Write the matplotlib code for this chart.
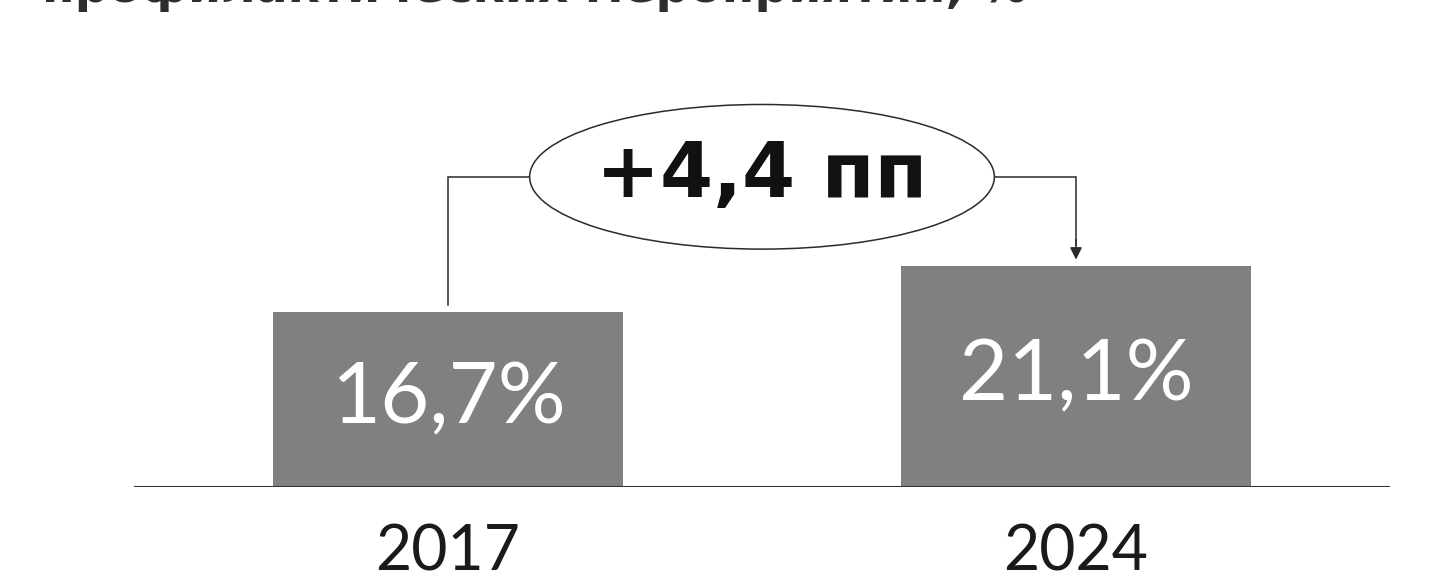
import matplotlib.pyplot as plt
from matplotlib.patches import Ellipse

# Share of population, %
years = ["2017", "2024"]
shares = [16.7, 21.1]
value_labels = ["16,7%", "21,1%"]
delta_label = "+4,4 пп"
title = "профилактических мероприятий, %"

BAR_COLOR = "#808080"
LINE_COLOR = "#2b2b2b"

W, H = 1451, 574
fig = plt.figure(figsize=(W / 100, H / 100), dpi=100)

# axes placed in pixel terms: baseline at 487 px from top, x from 134 to 1390 px
px_per_unit = 10.48
ax_left, ax_right = 134, 1390
base = H - 487
ymax = 44
ax = fig.add_axes([ax_left / W, base / H, (ax_right - ax_left) / W,
                   ymax * px_per_unit / H])
ax.set_xlim(-0.5, 1.5)
ax.set_ylim(0, ymax)
ax.axis("off")

x = list(range(len(years)))
bars = ax.bar(x, shares, width=0.557, color=BAR_COLOR, zorder=2)
ax.axhline(0, color="#333333", lw=1.5, zorder=3)

for xi, v, lab in zip(x, shares, value_labels):
    ax.text(xi, v / 2, lab, ha="center", va="center", color="white",
            fontsize=61, family="Lato", fontweight="normal", zorder=4)

# year labels sit on their glyph baseline close to the bottom edge
for xi, yr in zip(x, years):
    ax.text(xi, -8.0, yr, ha="center", va="baseline", color="#1a1a1a",
            fontsize=45, family="Lato", fontweight="normal", clip_on=False)

# bubble with the change between the two years
cx, cy = 0.5, 29.6
ew, eh = 0.74, 13.8
ax.add_patch(Ellipse((cx, cy), ew, eh, facecolor="white",
                     edgecolor=LINE_COLOR, lw=1.1, zorder=5))
ax.text(cx, cy + 0.1, delta_label, ha="center", va="center", color="#111111",
        fontsize=55, family="DejaVu Sans", fontweight="bold", zorder=6)

# connector: from the first bar up to the bubble, then down to the second bar
ax.plot([x[0], x[0], cx - ew / 2], [shares[0] + 0.7, cy, cy],
        color=LINE_COLOR, lw=1.1, zorder=4, solid_joinstyle="miter")
ax.plot([cx + ew / 2, x[1], x[1]], [cy, cy, shares[1] + 2],
        color=LINE_COLOR, lw=1.1, zorder=4, solid_joinstyle="miter")
ax.annotate("", xy=(x[1], shares[1] + 0.6), xytext=(x[1], shares[1] + 2.5),
            arrowprops=dict(arrowstyle="-|>", color=LINE_COLOR, lw=1.1,
                            mutation_scale=18, shrinkA=0, shrinkB=0))

# heading, its upper part runs off the top edge
fig.text(42 / W, 1 - 2 / H, title, ha="left", va="baseline", color="#2e2e2e",
         fontsize=34, family="DejaVu Sans", fontweight="bold")

fig.savefig("out.png", dpi=100, facecolor="white")
